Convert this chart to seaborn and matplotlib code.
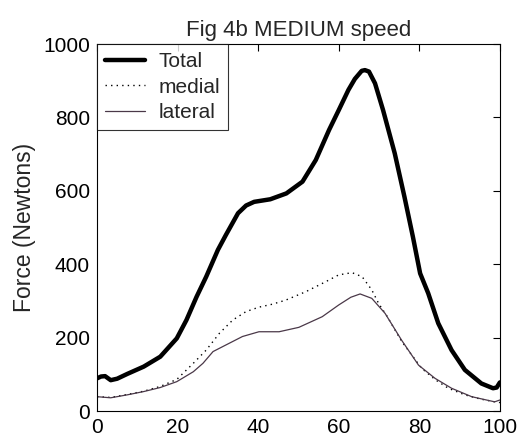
import pandas as pd
import seaborn as sns
import matplotlib.pyplot as plt

# values (percent of stance vs force in N)
total_x = [0, 1, 2, 3.4, 5, 7.5, 11.6, 15.7, 19.8, 22.2, 24.7, 27.1, 30, 32, 35, 37, 39, 43, 47, 51,
           54.3, 57.6, 60, 62.4, 64, 65.7, 66.5, 67.5, 69, 71, 73.9, 76.3, 78.4, 80.2, 82.2, 84.7,
           88, 91.3, 95.4, 98.3, 99.2, 100]
total_y = [89, 94, 95, 84, 88, 101, 121, 148, 198, 248, 311, 366, 439, 480, 539, 560, 570, 577, 593, 625,
           684, 766, 820, 875, 905, 927, 929, 925, 893, 820, 702, 584, 475, 375, 321, 239,
           166, 112, 75, 62, 64, 78]

medial_x = [0, 3.4, 7.5, 11.6, 15.7, 19.8, 23.9, 27.1, 30.4, 33.7, 37, 40.2, 43.5, 46.8, 51.8, 56.7,
            60, 63.3, 65.8, 68.2, 69.9, 72, 75.6, 80.6, 84, 87.2, 91.3, 95, 98.7, 100]
medial_y = [39, 37, 45, 54, 67, 86, 130, 166, 212, 248, 271, 283, 291, 302, 325, 352,
            371, 377, 366, 330, 293, 258, 190, 116, 85, 62, 44, 33, 25, 23]

lateral_x = [0, 3.4, 7.5, 11.6, 15.7, 19.8, 23.9, 26.3, 28.8, 32, 36.1, 40.2, 45.2, 50.1, 55.9,
             60, 63, 65.3, 68.2, 71.5, 75.6, 79.8, 83.9, 88, 93, 98.7, 100]
lateral_y = [39, 36, 44, 53, 64, 80, 107, 130, 162, 180, 203, 216, 216, 228, 257,
             289, 310, 319, 307, 266, 193, 125, 89, 62, 39, 25, 30]

sns.set_style("white")
plt.rcParams['font.family'] = ['Liberation Sans', 'DejaVu Sans']

fig = plt.figure(figsize=(5.29, 4.45), dpi=100)
ax = fig.add_axes([0.1834, 0.0764, 0.7616, 0.8246])

sns.lineplot(x=total_x, y=total_y, ax=ax, color='black', linewidth=3.2, label='Total')
sns.lineplot(x=medial_x, y=medial_y, ax=ax, color='black', linewidth=1.0, dashes=False,
             label='medial').lines[-1].set_dashes((1, 3))
sns.lineplot(x=lateral_x, y=lateral_y, ax=ax, color='#4a3848', linewidth=0.9, label='lateral')

ax.set_xlim(0, 100)
ax.set_ylim(0, 1000)
ax.set_xticks([0, 20, 40, 60, 80, 100])
ax.set_yticks([0, 200, 400, 600, 800, 1000])
ax.tick_params(direction='in', length=5, width=0.8, labelsize=15, top=True, right=True,
               colors='black', pad=5)
for s in ax.spines.values():
    s.set_color('black')
    s.set_linewidth(0.8)

ax.set_title('Fig 4b MEDIUM speed', fontsize=16, pad=6)
ax.set_ylabel('Force (Newtons)', fontsize=16.5, labelpad=5)
ax.set_xlabel('')

leg = ax.legend(loc='upper left', borderaxespad=0, fontsize=15, frameon=True, fancybox=False,
                handlelength=1.9, handletextpad=0.65, borderpad=0.4, labelspacing=0.3)
leg.get_frame().set_edgecolor('black')
leg.get_frame().set_linewidth(0.8)

fig.savefig('out.png', dpi=100)
